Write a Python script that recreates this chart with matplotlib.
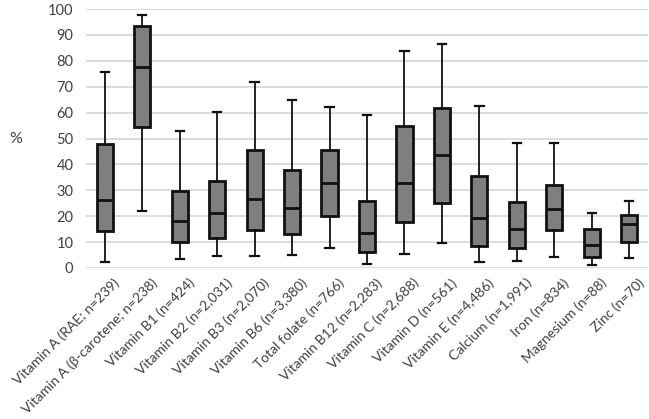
import matplotlib
matplotlib.use("Agg")
import matplotlib.pyplot as plt
from matplotlib.transforms import ScaledTranslation

categories = ["Vitamin A (RAE; n=239)", "Vitamin A (β-carotene; n=238)", "Vitamin B1 (n=424)",
              "Vitamin B2 (n=2,031)", "Vitamin B3 (n=2,070)", "Vitamin B6 (n=3,380)",
              "Total folate (n=766)", "Vitamin B12 (n=2,283)", "Vitamin C (n=2,688)",
              "Vitamin D (n=561)", "Vitamin E (n=4,486)", "Calcium (n=1,991)",
              "Iron (n=834)", "Magnesium (n=88)", "Zinc (n=70)"]
whisker_low = [2.4, 22.2, 3.6, 4.6, 4.6, 5.0, 7.6, 1.5, 5.4, 9.5, 2.3, 2.8, 4.1, 1.0, 3.7]
q1 =          [14.3, 54.4, 10.0, 11.7, 14.8, 13.0, 19.9, 6.0, 17.9, 25.1, 8.6, 7.7, 14.8, 4.2, 10.0]
median =      [26.1, 77.8, 18.1, 21.2, 26.7, 23.0, 33.0, 13.7, 32.9, 43.7, 19.4, 15.0, 22.9, 8.7, 17.1]
q3 =          [47.9, 93.6, 29.8, 33.6, 45.4, 37.8, 45.6, 25.8, 54.9, 61.7, 35.5, 25.6, 31.9, 15.0, 20.4]
whisker_high = [75.6, 97.8, 52.8, 60.2, 72.0, 64.9, 62.2, 59.1, 83.7, 86.6, 62.7, 48.4, 48.2, 21.3, 26.0]
yticks = [0, 10, 20, 30, 40, 50, 60, 70, 80, 90, 100]

plt.rcParams['font.family'] = ['Lato', 'DejaVu Sans']

fig = plt.figure(figsize=(6.49, 4.19), dpi=100)
ax = fig.add_axes([0.1325, 0.3604, 0.866, 0.618])

stats = []
for i, c in enumerate(categories):
    stats.append(dict(label=c, whislo=whisker_low[i], q1=q1[i], med=median[i],
                      q3=q3[i], whishi=whisker_high[i], fliers=[]))

ax.bxp(stats, positions=range(len(categories)), widths=0.43, patch_artist=True,
       showfliers=False,
       boxprops=dict(facecolor="#7f7f7f", edgecolor="#111111", linewidth=2.0),
       medianprops=dict(color="#111111", linewidth=2.0),
       whiskerprops=dict(color="#111111", linewidth=1.3),
       capprops=dict(color="#111111", linewidth=1.6), capwidths=0.22)

ax.set_xlim(-0.5, len(categories) - 0.5)
ax.set_ylim(0, 100)
ax.set_yticks(yticks)
ax.set_yticklabels([str(t) for t in yticks], fontsize=10.5, color="#404040")
ax.yaxis.grid(True, color="#d9d9d9", linewidth=1.3)
ax.set_axisbelow(True)
ax.tick_params(axis='both', length=0)
ax.tick_params(axis='y', pad=9)
ax.set_xticks(range(len(categories)))
ax.set_xticklabels(categories, rotation=45, ha='right', rotation_mode='anchor',
                   fontsize=10, color="#404040")
ax.tick_params(axis='x', pad=6)
offset = ScaledTranslation(6 / 72, 0, fig.dpi_scale_trans)
for lab in ax.get_xticklabels():
    lab.set_transform(lab.get_transform() + offset)
for s in ax.spines.values():
    s.set_visible(False)
ax.set_ylabel("%", rotation=0, fontsize=11.5, color="#404040", labelpad=23, va='center')

fig.savefig("out.png", dpi=100)
